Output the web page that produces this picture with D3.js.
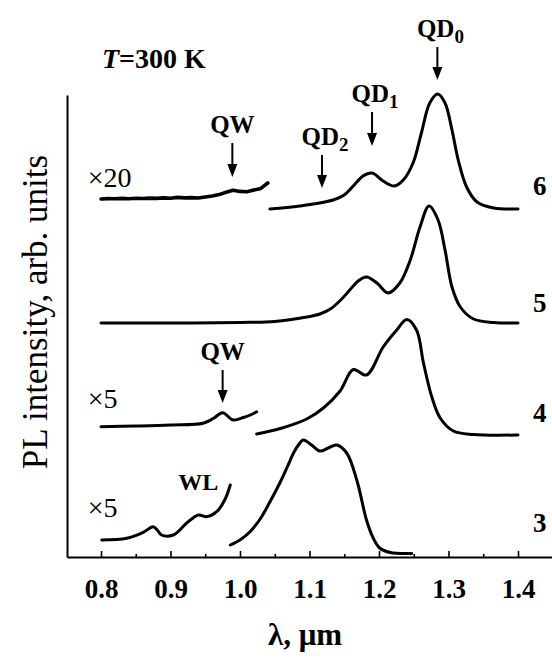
<!DOCTYPE html>
<html>
<head>
<meta charset="utf-8">
<script src="https://cdn.jsdelivr.net/npm/d3@7"></script>
<style>
body { margin: 0; background: white; }
text { font-family: "Liberation Serif", "Times New Roman", serif; fill: black; }
</style>
</head>
<body>
<div id="chart"></div>
<script>
var width = 552
var height = 660

// Spectra: wavelength (um) and PL intensity (arb. units, curves stacked)

// sample 6, x20 part (short wavelengths)
var lambda6Low = [0.80, 0.81, 0.82, 0.83, 0.84, 0.85, 0.86, 0.87, 0.88, 0.89, 0.90, 0.91, 0.92,
    0.93, 0.94, 0.95, 0.96, 0.97, 0.98, 0.99, 1.00, 1.01, 1.02, 1.03, 1.04]
var pl6Low = [358, 358.4, 358.2, 358.6, 358.3, 358.7, 358.5, 358.9, 358.6, 359.1, 358.8, 359.6, 359.1,
    359.4, 359.0, 360.0, 361.0, 362.4, 364.8, 366.8, 365.6, 365.2, 367.0, 368.6, 374.0]
// sample 6
var lambda6 = [1.043, 1.086, 1.134, 1.150, 1.163, 1.177, 1.190, 1.206, 1.222, 1.235, 1.249, 1.261,
    1.273, 1.2845, 1.295, 1.305, 1.314, 1.326, 1.341, 1.365, 1.400]
var pl6 = [348, 351, 357, 362, 371, 381, 384, 376, 371, 377, 394, 424,
    454, 463, 454, 427, 397, 370, 355, 349, 348]

// sample 5
var lambda5 = [0.80, 0.90, 1.00, 1.05, 1.096, 1.115, 1.130, 1.145, 1.158, 1.170, 1.182, 1.197, 1.213,
    1.230, 1.245, 1.259, 1.272, 1.285, 1.295, 1.305, 1.317, 1.336, 1.365, 1.40]
var pl5 = [234, 234, 234.5, 235.5, 240, 243, 248, 257, 267, 276, 280, 274, 264,
    274, 297, 330, 351, 337, 307, 270, 250, 238, 234.5, 234]

// sample 4, x5 part
var lambda4Low = [0.80, 0.85, 0.90, 0.947, 0.962, 0.975, 0.990, 1.005, 1.015, 1.024]
var pl4Low = [130.3, 131, 132, 133.7, 138.7, 144.3, 137, 139.5, 142, 145.3]
// sample 4
var lambda4 = [1.024, 1.058, 1.096, 1.120, 1.144, 1.163, 1.182, 1.206, 1.2255, 1.240, 1.254,
    1.264, 1.276, 1.288, 1.307, 1.336, 1.40]
var pl4 = [123, 128.5, 138, 149, 166, 187.5, 182, 210, 227, 237.5, 227,
    194, 160, 139, 126, 122.5, 122]

// sample 3, x5 part
var lambda3Low = [0.801, 0.837, 0.860, 0.875, 0.881, 0.887, 0.904, 0.923, 0.940, 0.952, 0.9665, 0.978, 0.986]
var pl3Low = [17, 18.7, 24.3, 30.3, 27, 22, 22, 33.7, 42, 40.3, 45.3, 57, 72]
// sample 3
var lambda3 = [0.986, 1.000, 1.014, 1.029, 1.043, 1.058, 1.068, 1.077, 1.084, 1.091, 1.103, 1.115,
    1.127, 1.139, 1.1535, 1.168, 1.182, 1.191, 1.201, 1.216, 1.247]
var pl3 = [12, 17, 25, 38, 55, 75, 90, 104, 112, 117, 112, 106,
    109, 112, 104, 77, 37, 20, 9, 4.5, 3.5]

// Axis ticks
var xTicks = [0.8, 0.9, 1.0, 1.1, 1.2, 1.3, 1.4]
var xMinorTicks = [0.85, 0.95, 1.05, 1.15, 1.25, 1.35]

// Sample numbers at the right
var sampleNames = ["6", "5", "4", "3"]
var sampleLevels = [362, 245, 135, 25]

// Multiplier labels and WL
var noteTexts = ["\u00d720", "\u00d75", "\u00d75", "WL"]
var noteLambda = [0.781, 0.781, 0.781, 0.911]
var noteLevels = [370, 149, 40, 67]

// Arrows: QD0, QD1, QD2, QW (6), QW (4)
var markNames = ["QD", "QD", "QD", "QW", "QW"]
var markSubs = ["0", "1", "2", "", ""]
var markLambda = [1.284, 1.190, 1.118, 0.989, 0.975]
var markTop = [510, 445, 402, 414, 187]
var markTip = [477, 411, 369, 380, 154]

// Scales

var x_scale = d3.scaleLinear()
    .domain([0.8 - 34 / 695, 0.8 + 451 / 695])
    .range([67, 552])

var y_scale = d3.scaleLinear()
    .domain([0, 462])
    .range([557, 95])

var svg = d3.select("#chart")
    .append("svg")
    .attr("width", width)
    .attr("height", height)
    .style("background-color", "white")

// Axes

var xAxis = d3.axisBottom(x_scale)
    .tickValues(xTicks)
    .tickFormat(d3.format(".1f"))
    .tickSizeInner(-6)
    .tickSizeOuter(0)
    .tickPadding(22)

var gx = svg.append("g")
    .attr("class", "x axis")
    .attr("transform", "translate(0," + y_scale(0) + ")")
    .call(xAxis)

gx.attr("font-family", null)
gx.select(".domain").attr("stroke-width", 2)
gx.selectAll(".tick line").attr("stroke-width", 1.6)
gx.selectAll(".tick text")
    .style("font-family", "'Liberation Serif', serif")
    .style("font-size", "27px")
    .style("font-weight", "bold")

var xMinor = d3.axisBottom(x_scale)
    .tickValues(xMinorTicks)
    .tickFormat("")
    .tickSizeInner(-3)
    .tickSizeOuter(0)

svg.append("g")
    .attr("transform", "translate(0," + y_scale(0) + ")")
    .call(xMinor)
    .call(function(g) { g.select(".domain").remove() })
    .selectAll(".tick line").attr("stroke-width", 1.6)

var yAxis = d3.axisLeft(y_scale).tickValues([]).tickSizeOuter(0)

svg.append("g")
    .attr("class", "y axis")
    .attr("transform", "translate(" + x_scale.range()[0] + ",0)")
    .call(yAxis)
    .select(".domain").attr("stroke-width", 2)

// Curves

var smooth = d3.line()
    .x(function(d) { return x_scale(d[0]) })
    .y(function(d) { return y_scale(d[1]) })
    .curve(d3.curveCatmullRom.alpha(0.5))

var rough = d3.line()
    .x(function(d) { return x_scale(d[0]) })
    .y(function(d) { return y_scale(d[1]) })

var curves = [
    [lambda6Low, pl6Low, 3.6, rough],
    [lambda6, pl6, 3, smooth],
    [lambda5, pl5, 3, smooth],
    [lambda4Low, pl4Low, 3, smooth],
    [lambda4, pl4, 3, smooth],
    [lambda3Low, pl3Low, 3, smooth],
    [lambda3, pl3, 3, smooth]
]

curves.forEach(function(c) {
    var pts = c[0].map(function(v, i) { return [v, c[1][i]] })
    svg.append("path")
        .datum(pts)
        .attr("d", c[3])
        .attr("fill", "none")
        .attr("stroke", "black")
        .attr("stroke-width", c[2])
        .attr("stroke-linejoin", "round")
        .attr("stroke-linecap", "round")
})

// Arrows with labels

markLambda.forEach(function(v, i) {
    var ax = x_scale(v)
    var y0 = y_scale(markTop[i])
    var y1 = y_scale(markTip[i])
    svg.append("line")
        .attr("x1", ax).attr("x2", ax)
        .attr("y1", y0).attr("y2", y1 - 8)
        .attr("stroke", "black")
        .attr("stroke-width", 2)
    svg.append("path")
        .attr("d", "M" + (ax - 5) + "," + (y1 - 13) + "L" + (ax + 5) + "," + (y1 - 13) + "L" + ax + "," + y1 + "Z")
        .attr("fill", "black")
    var t = svg.append("text")
        .attr("x", ax + (markSubs[i] ? 3 : 0))
        .attr("y", y0 - 10)
        .attr("text-anchor", "middle")
        .style("font-size", "25px")
        .style("font-weight", "bold")
    t.append("tspan").text(markNames[i])
    if (markSubs[i]) {
        t.append("tspan")
            .attr("dy", "0.3em")
            .style("font-size", "19px")
            .text(markSubs[i])
    }
})

// Notes

noteTexts.forEach(function(s, i) {
    svg.append("text")
        .attr("x", x_scale(noteLambda[i]))
        .attr("y", y_scale(noteLevels[i]))
        .style("font-size", i == 3 ? "24px" : "28px")
        .style("font-weight", i == 3 ? "bold" : "normal")
        .text(s)
})

sampleNames.forEach(function(s, i) {
    svg.append("text")
        .attr("x", 533)
        .attr("y", y_scale(sampleLevels[i]))
        .style("font-size", "27px")
        .style("font-weight", "bold")
        .text(s)
})

// Titles

var title = svg.append("text")
    .attr("x", 102)
    .attr("y", 68)
    .style("font-size", "28px")
    .style("font-weight", "bold")
title.append("tspan").style("font-style", "italic").text("T")
title.append("tspan").text("=300 K")

svg.append("text")
    .attr("x", 305)
    .attr("y", 645)
    .attr("text-anchor", "middle")
    .style("font-size", "31px")
    .style("font-weight", "bold")
    .text("\u03bb, \u03bcm")

svg.append("text")
    .attr("transform", "translate(47,312) rotate(-90)")
    .attr("text-anchor", "middle")
    .style("font-size", "35px")
    .text("PL intensity, arb. units")
</script>
</body>
</html>
